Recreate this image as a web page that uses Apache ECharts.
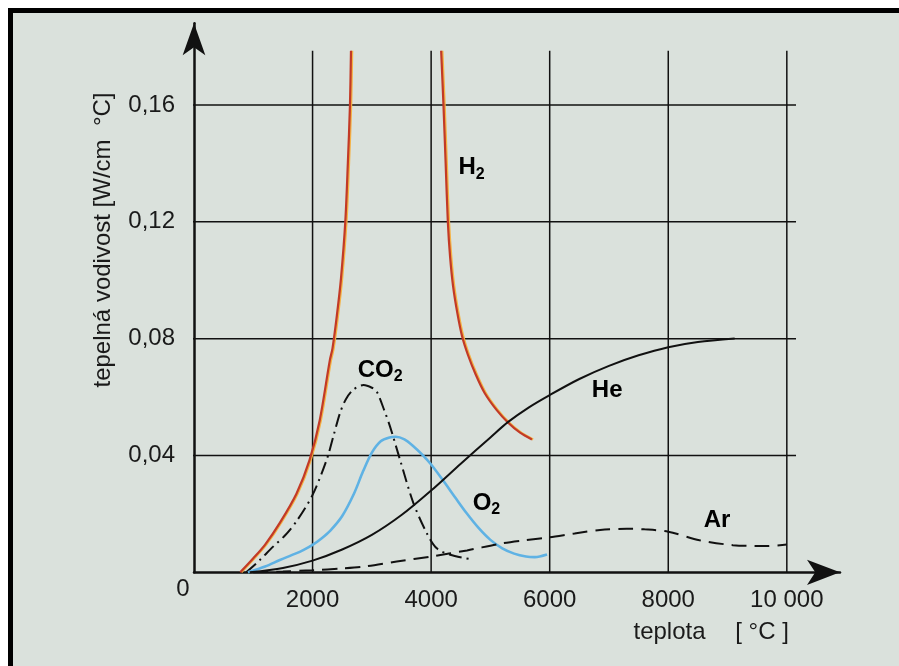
<!DOCTYPE html>
<html><head><meta charset="utf-8">
<script src="https://cdn.jsdelivr.net/npm/echarts@6/dist/echarts.min.js"></script>
<style>html,body{margin:0;padding:0;background:#fff}#c{width:899px;height:666px}</style>
</head><body><div id="c"></div>
<script>
// ---- data ----
const xTicks = [2000, 4000, 6000, 8000, 10000];
const xTickLabels = ['2000', '4000', '6000', '8000', '10 000'];
const yTicks = [0.04, 0.08, 0.12, 0.16];
const yTickLabels = ['0,04', '0,08', '0,12', '0,16'];

const h2Left = [[780,0],[1000,0.0048],[1200,0.0095],[1450,0.017],[1730,0.027],[1950,0.0385],[2120,0.052],[2290,0.0725],[2336,0.0767],[2410,0.088],[2479,0.1006],[2552,0.12],[2595,0.14],[2631,0.16],[2648,0.1786]];
const h2Right = [[4169,0.1786],[4208,0.16],[4245,0.14],[4282,0.12],[4320,0.108],[4370,0.098],[4440,0.089],[4520,0.081],[4620,0.0745],[4750,0.0678],[4900,0.0615],[5100,0.0557],[5300,0.0512],[5500,0.0478],[5700,0.0455]];
const co2 = [[880,0],[1100,0.004],[1335,0.0088],[1530,0.0125],[1730,0.0175],[2000,0.0265],[2237,0.0385],[2350,0.0465],[2462,0.0545],[2560,0.0592],[2687,0.0625],[2860,0.0641],[3000,0.0632],[3082,0.0619],[3200,0.056],[3307,0.0499],[3476,0.0385],[3701,0.0237],[3927,0.0134],[4096,0.0082],[4321,0.006],[4633,0.0046]];
const o2 = [[910,0],[1200,0.002],[1448,0.0042],[1700,0.0063],[1850,0.0077],[2000,0.0094],[2150,0.0116],[2300,0.0143],[2500,0.0193],[2700,0.027],[2850,0.0345],[3000,0.041],[3150,0.0449],[3300,0.0462],[3400,0.0464],[3550,0.0455],[3700,0.0432],[3850,0.0403],[4000,0.0369],[4200,0.0315],[4400,0.0258],[4600,0.0202],[4800,0.0152],[5000,0.0111],[5200,0.0082],[5400,0.0064],[5600,0.0054],[5750,0.0052],[5955,0.0061]];
const he = [[940,0],[1500,0.0015],[2000,0.004],[2500,0.0078],[3000,0.0128],[3500,0.0196],[4000,0.028],[4500,0.0372],[5000,0.0462],[5300,0.0515],[5650,0.0565],[6000,0.0607],[6500,0.0662],[7000,0.0707],[7500,0.0743],[8000,0.0771],[8500,0.0789],[9120,0.0801]];
const ar = [[1000,0],[1500,0.0003],[2000,0.0007],[2500,0.0013],[2856,0.0019],[3420,0.0037],[4000,0.0054],[4605,0.0075],[5167,0.0098],[5600,0.011],[6000,0.012],[6420,0.0133],[6850,0.0145],[7300,0.0149],[7600,0.0147],[8000,0.0139],[8528,0.011],[9090,0.0093],[9650,0.009],[10000,0.0095]];

const curveLabels = [[4683,0.1386,'H','2'],[3140,0.0693,'CO','2'],[6969,0.0623,'He',''],[4933,0.0237,'O','2'],[8823,0.0179,'Ar','']];

const yTitle = 'tepelná vodivost [W/cm  °C]';
const xTitleA = 'teplota';
const xTitleB = '[ °C ]';

// ---- chart ----
const FONT = "'Liberation Sans', Arial, Helvetica, sans-serif";
const INK = '#111';
const BG = '#dae1dc';
const chart = echarts.init(document.getElementById('c'), null, {renderer: 'canvas'});

const gridSeries = [];
yTicks.forEach(v => gridSeries.push({type:'line', data:[[-125, v],[10155, v]], showSymbol:false, clip:false, silent:true, z:1,
  lineStyle:{color:INK, width:1.5}}));
xTicks.forEach(v => gridSeries.push({type:'line', data:[[v, 0],[v, 0.1786]], showSymbol:false, clip:false, silent:true, z:1,
  lineStyle:{color:INK, width:1.5}}));

function curve(name, data, style) {
  return {name, type:'line', data, showSymbol:false, smooth:0.3, clip:false, z:3, lineStyle:style};
}

const option = {
  animation:false,
  backgroundColor: BG,
  grid:{left:194, right:59, top:23.3, bottom:93.7, containLabel:false},
  xAxis:{type:'value', min:0, max:10897, interval:2000,
    axisLine:{show:true, symbol:['none','arrow'], symbolSize:[19,33], lineStyle:{color:INK, width:2.5}},
    axisTick:{show:false}, splitLine:{show:false},
    axisLabel:{margin:16, color:'#1a1a1a', fontFamily:FONT, fontSize:24,
      formatter: v => { const i = xTicks.indexOf(v); return i >= 0 ? xTickLabels[i] : ''; }}},
  yAxis:{type:'value', min:0, max:0.188, interval:0.04,
    axisLine:{show:true, symbol:['none','arrow'], symbolSize:[17,32], lineStyle:{color:INK, width:2.5}},
    axisTick:{show:false}, splitLine:{show:false},
    axisLabel:{margin:19, color:'#1a1a1a', fontFamily:FONT, fontSize:24,
      formatter: v => { const i = yTicks.findIndex(t => Math.abs(t - v) < 1e-6); return i >= 0 ? yTickLabels[i] : ''; }}},
  series: gridSeries.concat([
    curve('H2a', h2Left, {color:'#c23a27', width:2.2, shadowColor:'rgba(245,175,60,0.95)', shadowOffsetX:1.2, shadowBlur:0}),
    curve('H2b', h2Right, {color:'#c23a27', width:2.2, shadowColor:'rgba(245,175,60,0.95)', shadowOffsetX:1.2, shadowBlur:0}),
    curve('CO2', co2, {color:INK, width:2, type:[13,5,2,5]}),
    curve('O2', o2, {color:'#5fb2e4', width:2.6}),
    curve('He', he, {color:INK, width:2}),
    curve('Ar', ar, {color:INK, width:2, type:[15,8]}),
    {type:'scatter', data: curveLabels, symbolSize:0, silent:true, z:5,
      itemStyle:{opacity:1},
      label:{show:true, position:'inside', color:'#000', opacity:1,
        formatter: p => '{b|' + p.data[2] + '}' + (p.data[3] ? '{s|' + p.data[3] + '}' : ''),
        rich:{
          b:{fontFamily:FONT, fontWeight:'bold', fontSize:24, lineHeight:24, color:'#000'},
          s:{fontFamily:FONT, fontWeight:'bold', fontSize:16, lineHeight:16, padding:[14,0,0,0], color:'#000'}
        }}}
  ])
};
chart.setOption(option);

const o = chart.convertToPixel({gridIndex:0}, [0, 0]);
chart.setOption({graphic:[
  {type:'rect', shape:{x:0,y:0,width:899,height:8}, style:{fill:'#fff'}, silent:true},
  {type:'rect', shape:{x:0,y:0,width:8,height:666}, style:{fill:'#fff'}, silent:true},
  {type:'rect', shape:{x:8,y:8,width:891,height:5}, style:{fill:'#000'}, silent:true},
  {type:'rect', shape:{x:8,y:8,width:5,height:658}, style:{fill:'#000'}, silent:true},
  {type:'text', x:o[0]-11, y:o[1]+17, style:{text:'0', font:'24px ' + FONT, fill:'#1a1a1a', align:'center', verticalAlign:'middle'}},
  {type:'text', x:103, y:240, rotation:Math.PI/2, style:{text:yTitle, font:'24px ' + FONT, fill:'#1a1a1a', align:'center', verticalAlign:'middle'}},
  {type:'text', x:669.5, y:632, style:{text:xTitleA, font:'24px ' + FONT, fill:'#1a1a1a', align:'center', verticalAlign:'middle'}},
  {type:'text', x:762, y:632, style:{text:xTitleB, font:'24px ' + FONT, fill:'#1a1a1a', align:'center', verticalAlign:'middle'}}
]});
</script></body></html>
